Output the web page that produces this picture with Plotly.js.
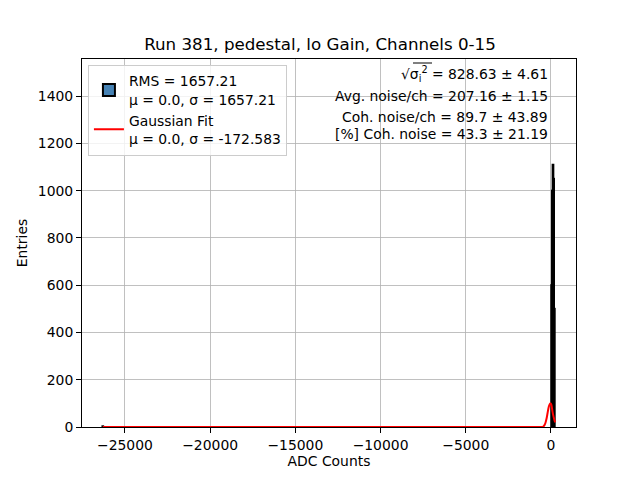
<!DOCTYPE html>
<html>
<head>
<meta charset="utf-8">
<script src="https://cdn.plot.ly/plotly-3.0.1.min.js"></script>
<style>html,body{margin:0;padding:0;background:#fff;}#chart{width:640px;height:480px;}</style>
</head>
<body>
<div id="chart"></div>
<script>
// Histogram bins (centers) and entries
var binCenters = [-26300, 40, 80, 120, 160, 200];
var binCounts  = [3, 600, 1000, 1110, 1050, 500];
var binWidth = 40;
// Gaussian fit curve points
var fitX = [-26300, -700, -550, -450, -380, -320, -260, -200, -150, -100, -50, -20, 20, 60, 100, 150, 200, 250];
var fitY = [0, 0, 0, 2, 8, 18, 35, 58, 78, 92, 99, 100, 95, 80, 62, 45, 30, 20];
var title = "Run 381, pedestal, lo Gain, Channels 0-15";
var histLabel = "RMS = 1657.21<br>μ = 0.0, σ = 1657.21";
var fitLabel = "Gaussian Fit<br>μ = 0.0, σ = -172.583";
var statLines = [
  "√<span>σ<sub>i</sub><sup>2</sup></span> = 828.63 ± 4.61",
  "Avg. noise/ch = 207.16 ± 1.15",
  "Coh. noise/ch = 89.7 ± 43.89",
  "[%] Coh. noise = 43.3 ± 21.19"
];
var xTicks = [-25000, -20000, -15000, -10000, -5000, 0];
var xTickText = ["−25000", "−20000", "−15000", "−10000", "−5000", "0"];
var yTicks = [0, 200, 400, 600, 800, 1000, 1200, 1400];

var font = "DejaVu Sans, sans-serif";
var fs = 13.9;

var traces = [
  {
    type: "scatter", mode: "lines", x: fitX, y: fitY, name: fitLabel,
    line: {color: "red", width: 2, shape: "spline"}
  },
  {
    type: "bar", x: binCenters, y: binCounts, width: binWidth,
    name: histLabel,
    marker: {color: "#4682b4", line: {color: "black", width: 2}},
    hoverinfo: "skip"
  }
];

var statY = [0.959, 0.899, 0.842, 0.796];
var annotations = statLines.map(function(t, i){
  return {xref: "paper", yref: "paper", x: 0.947, y: statY[i], xanchor: "right", yanchor: "middle",
          text: t, showarrow: false, font: {family: font, size: fs, color: "black"}};
});

var layout = {
  width: 640, height: 480,
  margin: {l: 82, r: 64, t: 59, b: 53, pad: 0},
  paper_bgcolor: "white", plot_bgcolor: "white",
  font: {family: font, size: fs, color: "black"},
  title: {text: title, font: {family: font, size: 16.7, color: "black"}, x: 0.5, xanchor: "center", y: 1 - 44/480, yanchor: "middle"},
  showlegend: true,
  legend: {x: 0.012, y: 0.985, xanchor: "left", yanchor: "top", traceorder: "reversed",
           bgcolor: "rgba(255,255,255,0.8)", bordercolor: "#cccccc", borderwidth: 1,
           font: {family: font, size: fs}, tracegroupgap: 4, itemwidth: 30},
  bargap: 0,
  xaxis: {
    range: [-27520, 1470], tickvals: xTicks, ticktext: xTickText, ticks: "outside", ticklen: 5, tickcolor: "black",
    showgrid: true, gridcolor: "#b0b0b0", gridwidth: 0.8, zeroline: false,
    showline: true, linecolor: "black", linewidth: 1, mirror: true,
    title: {text: "ADC Counts", font: {family: font, size: fs}, standoff: 4},
    tickfont: {family: font, size: fs}
  },
  yaxis: {
    range: [0, 1557], tickvals: yTicks, ticks: "outside", ticklen: 5, tickcolor: "black",
    showgrid: true, gridcolor: "#b0b0b0", gridwidth: 0.8, zeroline: false,
    showline: true, linecolor: "black", linewidth: 1, mirror: true,
    title: {text: "Entries", font: {family: font, size: fs}, standoff: 6},
    tickfont: {family: font, size: fs}
  },
  annotations: annotations,
  shapes: [
    {type: "line", xref: "paper", yref: "paper", x0: (413-82)/494, x1: (432-82)/494, y0: (427-63)/368, y1: (427-63)/368,
     line: {color: "black", width: 1}}
  ]
};

Plotly.newPlot("chart", traces, layout, {displayModeBar: false, staticPlot: true});
</script>
</body>
</html>
